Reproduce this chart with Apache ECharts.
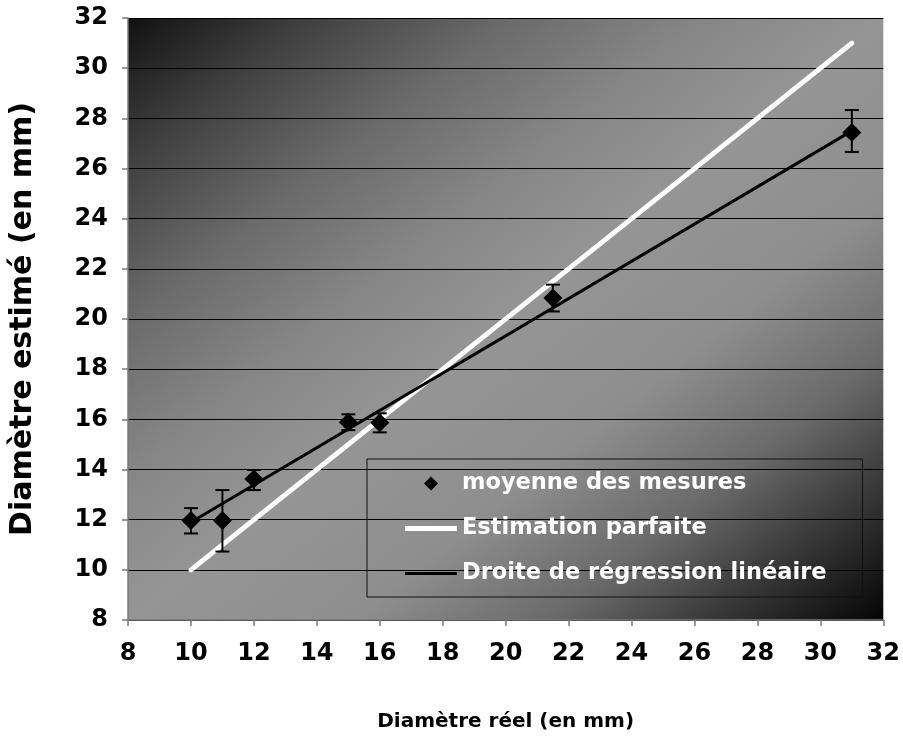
<!DOCTYPE html>
<html>
<head>
<meta charset="utf-8">
<script src="https://cdn.jsdelivr.net/npm/echarts@6/dist/echarts.min.js"></script>
<style>
html,body{margin:0;padding:0;background:#fff;}
#chart{width:903px;height:740px;}
</style>
</head>
<body>
<div id="chart"></div>
<script>
// Data
const realDiameters = [10, 11, 12, 15, 16, 21.5, 31];
const meanEstimates = [11.97, 11.97, 13.62, 15.88, 15.86, 20.84, 27.44];
const errLow = [11.45, 10.73, 13.18, 15.57, 15.48, 20.3, 26.66];
const errHigh = [12.46, 13.18, 13.98, 16.2, 16.24, 21.37, 28.33];
const perfectLine = [[10, 10], [31, 31]];
const regressionLine = [[10, 11.9], [31, 27.5]];
const seriesNames = ['moyenne des mesures', 'Estimation parfaite', 'Droite de régression linéaire'];
const xTitle = 'Diamètre réel (en mm)';
const yTitle = 'Diamètre estimé (en mm)';

const FONT = '"DejaVu Sans", Verdana, sans-serif';
const chart = echarts.init(document.getElementById('chart'));

const scatterData = realDiameters.map((x, i) => [x, meanEstimates[i]]);
const errData = realDiameters.map((x, i) => [x, errLow[i], errHigh[i]]);

const axisCommon = {
  type: 'value',
  min: 8, max: 32, interval: 2,
  axisLine: { show: true, lineStyle: { color: '#7a7a7a', width: 1.5 } },
  axisTick: { show: true, inside: false, length: 6, lineStyle: { color: '#7a7a7a', width: 1.5 } },
  axisLabel: { color: '#000', fontSize: 24, fontWeight: 'bold', fontFamily: FONT },
  nameLocation: 'middle',
};

chart.setOption({
  animation: false,
  backgroundColor: '#ffffff',
  grid: {
    left: 128, right: 18, top: 18, bottom: 120,
    show: true, borderWidth: 0,
    backgroundColor: {
      type: 'linear',
      x: 0, y: 0, x2: 0.7748, y2: 1.2251,
      colorStops: [
        { offset: 0, color: '#111111' },
        { offset: 0.12, color: '#404040' },
        { offset: 0.25, color: '#6a6a6a' },
        { offset: 0.38, color: '#868686' },
        { offset: 0.5, color: '#959595' },
        { offset: 0.65, color: '#8e8e8e' },
        { offset: 0.78, color: '#6a6a6a' },
        { offset: 0.88, color: '#3a3a3a' },
        { offset: 1, color: '#050505' }
      ]
    }
  },
  legend: {
    orient: 'vertical',
    left: 367, top: 459,
    padding: [13, 36, 12, 38],
    itemWidth: 52, itemHeight: 14, itemGap: 22,
    borderColor: '#111', borderWidth: 1,
    textStyle: { color: '#fff', fontSize: 22.5, fontWeight: 'bold', fontFamily: FONT },
    data: [
      { name: seriesNames[0], icon: 'path://M7,0L14,7L7,14L0,7Z' },
      { name: seriesNames[1], icon: 'path://M0,0H52V5H0Z' },
      { name: seriesNames[2], icon: 'path://M0,0H52V3H0Z' }
    ]
  },
  xAxis: Object.assign({}, axisCommon, {
    name: xTitle, nameGap: 92,
    nameTextStyle: { color: '#000', fontSize: 20, fontWeight: 'bold', fontFamily: FONT },
    axisLabel: Object.assign({}, axisCommon.axisLabel, { margin: 22 }),
    splitLine: { show: false }
  }),
  yAxis: Object.assign({}, axisCommon, {
    name: yTitle, nameGap: 90, nameRotate: 90,
    nameTextStyle: { color: '#000', fontSize: 30, fontWeight: 'bold', fontFamily: FONT },
    axisLabel: Object.assign({}, axisCommon.axisLabel, { margin: 20 }),
    splitLine: { show: true, lineStyle: { color: '#000', width: 1 } }
  }),
  series: [
    {
      name: seriesNames[1], type: 'line', data: perfectLine,
      symbol: 'none', lineStyle: { color: '#ffffff', width: 5, cap: 'round' },
      itemStyle: { color: '#ffffff' }, z: 3
    },
    {
      name: seriesNames[2], type: 'line', data: regressionLine,
      symbol: 'none', lineStyle: { color: '#000000', width: 3 },
      itemStyle: { color: '#000000' }, z: 4
    },
    {
      name: 'err', type: 'custom', data: errData, z: 5,
      renderItem: function (params, api) {
        const x = api.value(0);
        const lo = api.coord([x, api.value(1)]);
        const hi = api.coord([x, api.value(2)]);
        const hw = 7;
        const st = { stroke: '#000', lineWidth: 2 };
        return {
          type: 'group',
          children: [
            { type: 'line', shape: { x1: lo[0], y1: lo[1], x2: hi[0], y2: hi[1] }, style: st },
            { type: 'line', shape: { x1: lo[0] - hw, y1: lo[1], x2: lo[0] + hw, y2: lo[1] }, style: st },
            { type: 'line', shape: { x1: hi[0] - hw, y1: hi[1], x2: hi[0] + hw, y2: hi[1] }, style: st }
          ]
        };
      }
    },
    {
      name: seriesNames[0], type: 'scatter', data: scatterData,
      symbol: 'diamond', symbolSize: 19,
      itemStyle: { color: '#000000', opacity: 1 }, z: 6
    }
  ]
});
</script>
</body>
</html>
